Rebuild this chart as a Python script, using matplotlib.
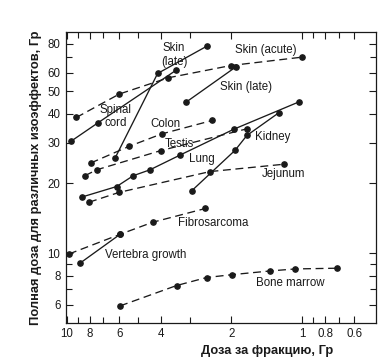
import matplotlib
import matplotlib.pyplot as plt
from matplotlib.ticker import FixedLocator, NullFormatter, FixedFormatter

matplotlib.use('Agg')

plt.rcParams['font.family'] = ['Liberation Sans', 'DejaVu Sans']

# dose per fraction (Gy) / total isoeffective dose (Gy)
skin_acute_x = [9.13, 5.99, 3.71, 2.01, 1.0]
skin_acute_y = [38.5, 48.6, 57.1, 64.5, 70.1]

spinal_x = [9.62, 7.39, 3.45]
spinal_y = [30.4, 36.5, 61.4]

skin_late1_x = [6.25, 4.12, 2.53]
skin_late1_y = [25.7, 59.6, 78.4]

skin_late2_x = [3.12, 1.92]
skin_late2_y = [44.8, 63.5]

colon_x = [7.93, 5.45, 3.96, 2.41]
colon_y = [24.5, 28.9, 32.7, 37.4]

testis_x = [8.39, 7.48, 4.0, 1.72]
testis_y = [21.6, 22.9, 27.7, 34.4]

lung_x = [8.61, 6.15, 5.23, 4.44, 3.31, 1.95, 1.03]
lung_y = [17.5, 19.4, 21.6, 22.9, 26.5, 34.3, 45.0]

kidney_x = [2.95, 1.93, 1.72, 1.26]
kidney_y = [18.6, 27.8, 32.2, 40.3]

jejunum_x = [8.06, 6.01, 2.47, 1.20]
jejunum_y = [16.6, 18.3, 22.5, 24.2]

fibro_x = [9.81, 5.95, 4.33, 2.58]
fibro_y = [9.93, 12.07, 13.6, 15.6]

vertebra_x = [8.81, 5.95]
vertebra_y = [9.06, 12.07]

marrow_x = [5.95, 3.42, 2.55, 1.98, 1.37, 1.07, 0.715]
marrow_y = [5.93, 7.26, 7.86, 8.09, 8.39, 8.56, 8.62]

x_ticks = [10, 8, 6, 4, 2, 1, 0.8, 0.6]
x_ticklabels = ['10', '8', '6', '4', '2', '1', '0.8', '0.6']
x_minor = [9, 7, 5, 3, 0.9, 0.7]
y_ticks = [6, 8, 10, 20, 30, 40, 50, 60, 80]
y_ticklabels = ['6', '8', '10', '20', '30', '40', '50', '60', '80']
y_minor = [7, 9, 70]

ink = '#1a1a1a'
dash = (0, (6, 3.5))

fig = plt.figure(figsize=(3.85, 3.64), dpi=100)
ax = fig.add_axes([0.1714, 0.1135, 0.8052, 0.7978])

series = [
    (skin_acute_x, skin_acute_y, dash),
    (spinal_x, spinal_y, '-'),
    (skin_late1_x, skin_late1_y, '-'),
    (skin_late2_x, skin_late2_y, '-'),
    (colon_x, colon_y, dash),
    (testis_x, testis_y, dash),
    (lung_x, lung_y, '-'),
    (kidney_x, kidney_y, '-'),
    (jejunum_x, jejunum_y, dash),
    (fibro_x, fibro_y, dash),
    (vertebra_x, vertebra_y, '-'),
    (marrow_x, marrow_y, dash),
]
for xs, ys, ls in series:
    ax.plot(xs, ys, linestyle=ls, color=ink, lw=0.95, marker='o', ms=3.8,
            mfc=ink, mec=ink)

ax.set_xscale('log')
ax.set_yscale('log')
ax.set_xlim(10.1, 0.486)
ax.set_ylim(5.02, 89.7)

ax.xaxis.set_major_locator(FixedLocator(x_ticks))
ax.xaxis.set_major_formatter(FixedFormatter(x_ticklabels))
ax.xaxis.set_minor_locator(FixedLocator(x_minor))
ax.xaxis.set_minor_formatter(NullFormatter())
ax.yaxis.set_major_locator(FixedLocator(y_ticks))
ax.yaxis.set_major_formatter(FixedFormatter(y_ticklabels))
ax.yaxis.set_minor_locator(FixedLocator(y_minor))
ax.yaxis.set_minor_formatter(NullFormatter())

ax.tick_params(which='both', direction='in', top=True, right=True,
               labelsize=8.3, colors=ink, width=0.8, pad=4)
ax.tick_params(which='major', length=5)
ax.tick_params(which='minor', length=4)
for s in ax.spines.values():
    s.set_linewidth(0.9)
    s.set_color(ink)

fs = 8.3
labels = [
    (3.51, 71.5, 'Skin\n(late)'),
    (1.43, 75.1, 'Skin (acute)'),
    (1.74, 52.2, 'Skin (late)'),
    (6.21, 39.0, 'Spinal\ncord'),
    (3.81, 36.1, 'Colon'),
    (3.33, 29.6, 'Testis'),
    (2.68, 25.6, 'Lung'),
    (1.34, 31.8, 'Kidney'),
    (1.20, 22.0, 'Jejunum'),
    (2.40, 13.5, 'Fibrosarcoma'),
    (4.63, 9.87, 'Vertebra growth'),
    (1.13, 7.43, 'Bone marrow'),
]
for x, y, t in labels:
    ax.text(x, y, t, ha='center', va='center', fontsize=fs, color=ink,
            linespacing=1.15)

ax.set_xlabel('Доза за фракцию, Гр', fontsize=9.3, fontweight='bold',
              color=ink)
ax.xaxis.set_label_coords(0.648, -0.077)
ax.set_ylabel('Полная доза для различных изоэффектов, Гр', fontsize=9.3,
              fontweight='bold', color=ink)
ax.yaxis.set_label_coords(-0.078, 0.5)

fig.savefig('out.png', dpi=100)
plt.close(fig)
